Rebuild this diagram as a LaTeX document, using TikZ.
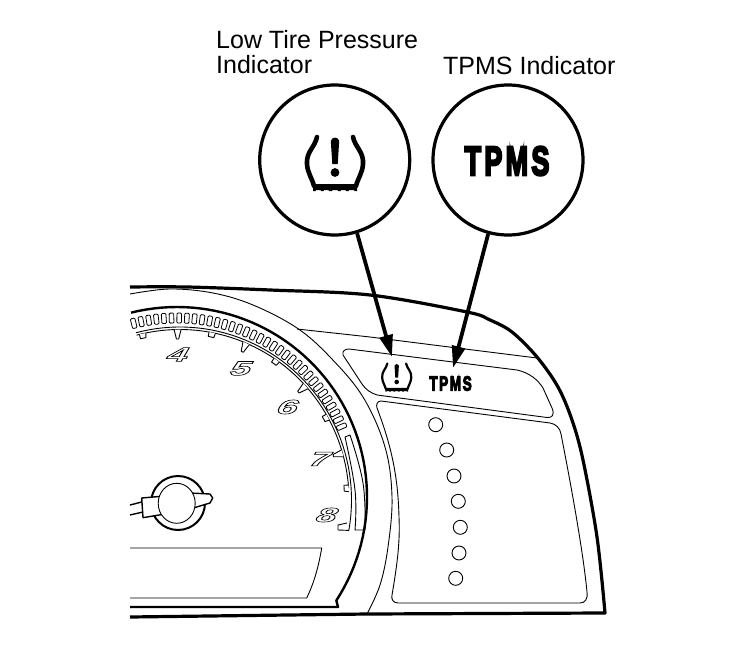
\documentclass[tikz,border=0pt]{standalone}
\usepackage{fontspec}
\setmainfont{Liberation Sans}
\newfontfamily\dialfont[FakeSlant=0.32]{Liberation Sans Bold}
\newfontfamily\heavyfont[FakeBold=6,LetterSpace=12]{Liberation Sans Bold}
\usetikzlibrary{arrows.meta}
\newcommand{\outlined}[1]{\special{pdf:code 1 Tr 0.55 w}#1\special{pdf:code 0 Tr}}
\newcommand{\tireicon}[4]{% x, y, scale, line width
\begin{scope}[shift={(#1,#2)},xscale=#3,yscale=#3]
\draw[line width=#4,line cap=round,line join=round] (-18,-24) .. controls (-20,-14) and (-29,-9) .. (-28,3) .. controls (-27.5,12) and (-23,17) .. (-21,25);
\draw[line width=#4,line cap=round,line join=round] (18,-24) .. controls (20,-14) and (29,-9) .. (28,3) .. controls (27.5,12) and (23,17) .. (21,25);
\fill (-22,23) -- (22,23) -- (22,30) -- (19.5,30) -- (19,29) -- (14,29) -- (13.5,30) -- (11,30) -- (10.5,29) -- (6,29) -- (5.5,30) -- (3,30) -- (2.5,29) -- (-2.5,29) -- (-3,30) -- (-6,30) -- (-6.5,29) -- (-11,29) -- (-11.5,30) -- (-14,30) -- (-14.5,29) -- (-19,29) -- (-19.5,30) -- (-22,30) -- cycle;
\fill (-4.2,-20) .. controls (-3.5,-24.5) and (3.5,-24.5) .. (4.2,-20) -- (2.7,3) -- (-2.7,3) -- cycle;
\fill (0,11.5) circle (4.4);
\end{scope}}
\tikzset{
  thinl/.style={line width=0.9pt,line join=round},
  thickl/.style={line width=3.2pt,line join=round},
  medl/.style={line width=1.4pt,line join=round},
  bigc/.style={circle,draw,line width=3.2pt,minimum size=150pt,inner sep=0pt},
  callout/.style={line width=3.8pt,-{Triangle[length=22pt,width=13pt]}},
  lbl/.style={font=\fontsize{25}{25}\selectfont,align=left,anchor=north west,inner sep=0pt,text=black},
  dial/.style={font=\dialfont\fontsize{20}{20}\selectfont,inner sep=0pt,xscale=1.85},
  led/.style={circle,draw,line width=0.9pt,minimum size=14pt,inner sep=0pt},
}
\begin{document}
\begin{tikzpicture}[x=1pt,y=-1pt]
\useasboundingbox (0,0) rectangle (752,650);
% outer body
\draw[thickl] plot[smooth,tension=.55] coordinates {(130,287) (187,287) (270,290) (370,295) (467,312) (490,320) (512,332) (537,357) (558,387) (572,420) (583,460) (597,537) (605,613)} -- (367,614) -- (130,617);
% inner contour
\draw[thinl] plot[smooth,tension=.6] coordinates {(130,294) (170,289) (213,293) (253,305) (297,328) (330,357) (363,397) (385,447) (392,497) (388,547) (380,585) (367,614)};
\draw[thinl] (297,329) -- (370,337) -- (465,349) -- (537,358);
% upper panel
\draw[thinl] (343,355) .. controls (342,351) and (345,349) .. (349,349) -- (453,362) -- (517,370) .. controls (530,373) and (538,380) .. (543,388) -- (552,408) .. controls (555,415) and (552,418) .. (547,417.5) -- (377,395) .. controls (371,393) and (366,390) .. (362,384) -- cycle;
% lower panel
\draw[thinl] (377,408) .. controls (376,405) and (377,401) .. (381,401) -- (550,423) .. controls (556,424) and (560,428) .. (561,434) .. controls (570,480) and (583,550) .. (587,592) .. controls (588,599) and (585,603) .. (580,603) -- (398,603) .. controls (393,603) and (391,599) .. (392,595) .. controls (398,560) and (400,540) .. (399,517) .. controls (398,480) and (393,450) .. (377,408) -- cycle;
% LEDs
\node[led] (d1) at (435.7,424.7) {};
\node[led] (d2) at (446.7,450) {};
\node[led] (d3) at (454,476) {};
\node[led] (d4) at (458.3,501.3) {};
\node[led] (d5) at (460.3,527.3) {};
\node[led] (d6) at (459,553) {};
\node[led] (d7) at (455.7,578.3) {};
% gauge arc
\draw[line width=2.4pt,line join=round] plot[domain=104:-33,samples=60] ({177+190*cos(\x)},{497-190*sin(\x)}) -- (338,607) -- (130,607);
% cells
\foreach \a in {104,101.55,...,21} {
  \draw[line width=0.8pt,rounded corners=1pt,rotate around={\a-90:({177+179*cos(\a)},{497-179*sin(\a)})}]
    ({177+179*cos(\a)-2.3},{497-179*sin(\a)-5}) rectangle ({177+179*cos(\a)+2.3},{497-179*sin(\a)+5});
}
% scale lines
\draw[thinl] plot[domain=104:-11,samples=50] ({177+(170+(90-\x)*0.05)*cos(\x)},{497-(170+(90-\x)*0.05)*sin(\x)}) -- (338,530) -- (338,525) -- (347,523);
\draw[thinl] plot[domain=104:3,samples=50] ({177+(167.5+(90-\x)*0.05)*cos(\x)},{497-(167.5+(90-\x)*0.05)*sin(\x)});
% box at scale end
\draw[thinl] plot[smooth,tension=.7] coordinates {(350,435) (363,483) (365,530)} -- plot[smooth,tension=.7] coordinates {(355,530) (355,490) (345,437)} -- cycle;
% ticks
\foreach \a in {90,66,41,15} {
  \draw[thinl,fill=white] ({177+(167.5+(90-\a)*0.05)*cos(\a+1)},{497-(167.5+(90-\a)*0.05)*sin(\a+1)}) -- ({177+(158+(90-\a)*0.05)*cos(\a+0.2)},{497-(158+(90-\a)*0.05)*sin(\a+0.2)}) -- ({177+(158+(90-\a)*0.05)*cos(\a-0.6)},{497-(158+(90-\a)*0.05)*sin(\a-0.6)}) -- ({177+(167.5+(90-\a)*0.05)*cos(\a-1.4)},{497-(167.5+(90-\a)*0.05)*sin(\a-1.4)});
}
\foreach \a in {102,78,54,28,3} {
  \draw[thinl,fill=white] ({177+(167.5+(90-\a)*0.05)*cos(\a+1)},{497-(167.5+(90-\a)*0.05)*sin(\a+1)}) -- ({177+(163+(90-\a)*0.05)*cos(\a+1)},{497-(163+(90-\a)*0.05)*sin(\a+1)}) -- ({177+(163+(90-\a)*0.05)*cos(\a-1)},{497-(163+(90-\a)*0.05)*sin(\a-1)}) -- ({177+(167.5+(90-\a)*0.05)*cos(\a-1.2)},{497-(167.5+(90-\a)*0.05)*sin(\a-1.2)});
}
% numerals
\node[dial] (n4) at (174.5,354.5) {\outlined{4}};
\node[dial] (n5) at (237.5,368.5) {\outlined{5}};
\node[dial] (n6) at (284.5,407) {\outlined{6}};
\node[dial] (n7) at (316.5,459) {\outlined{7}};
\node[dial] (n8) at (323.5,515) {\outlined{8}};
% display
\draw[thinl] (130,548) -- (321.7,548) .. controls (318,570) and (313,585) .. (306.7,598) -- (130,598);
% hub
\draw[line width=2pt] (178,503) circle (27);
\draw[medl,fill=white] (190,493) -- (210,494) -- (212.7,498) -- (210,503) -- (190,509) -- cycle;
\draw[medl,fill=white] (141.7,498) -- (165,496) -- (165,514) -- (143,517.7) -- cycle;
\draw[thinl,fill=white] (176.7,503.3) ellipse (18.5 and 20);
\draw[medl] (130,505) -- (141.7,502);
\draw[medl] (130,515) -- (143,512);
% small indicators
\tireicon{396.7}{376}{0.52}{2.2pt}
\node[inner sep=0pt,xscale=0.66] (tpmsS) at (450.5,383.5) {\heavyfont\fontsize{20.5}{20.5}\selectfont TPMS};
% big circles
\node[bigc] (lowc) at (334.7,160) {};
\node[bigc] (tpmsc) at (508,160) {};
\tireicon{335}{161}{1}{4.6pt}
\node[inner sep=0pt,xscale=0.66] (tpmsB) at (507,161) {\heavyfont\fontsize{41}{41}\selectfont TPMS};
% labels
\node[lbl] (l1) at (216,30.5) {Low Tire Pressure\\Indicator};
\node[lbl] (l2) at (443,56.5) {TPMS Indicator};
% callouts
\coordinate (tipA) at (392,357);
\coordinate (tipB) at (453,368);
\draw[callout] (lowc.-73.4) -- (tipA);
\draw[callout] (tpmsc.-105) -- (tipB);
\end{tikzpicture}
\end{document}
